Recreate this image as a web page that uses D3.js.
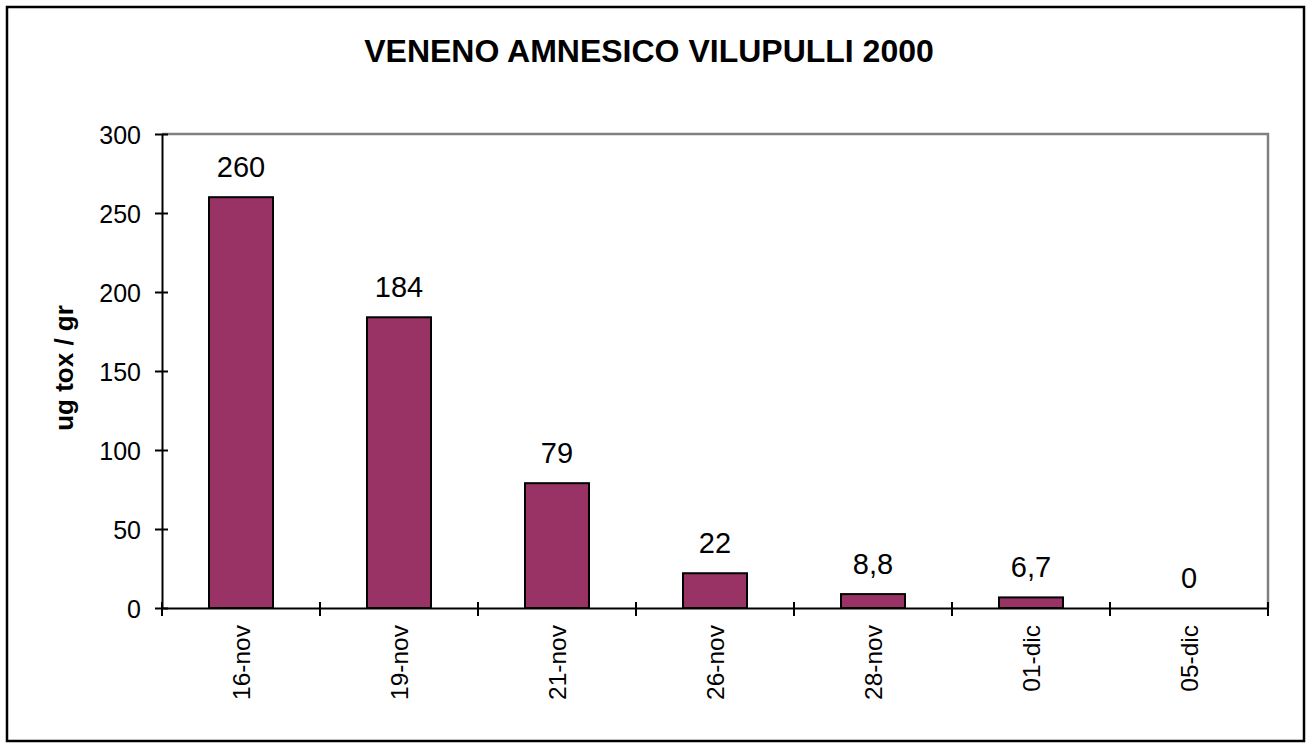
<!DOCTYPE html>
<html><head><meta charset="utf-8">
<script src="https://cdn.jsdelivr.net/npm/d3@7"></script>
<style>body{margin:0;background:#fff}svg{display:block}text{font-family:"Liberation Sans",Arial,sans-serif}</style>
</head><body><svg id="c" width="1311" height="748"></svg>
<script>
const categories = ["16-nov","19-nov","21-nov","26-nov","28-nov","01-dic","05-dic"];
const values = [260,184,79,22,8.8,6.7,0];
const valueLabels = ["260","184","79","22","8,8","6,7","0"];
const yTicks = [0,50,100,150,200,250,300];
const title = "VENENO AMNESICO VILUPULLI 2000";
const yTitle = "ug tox / gr";

const svg = d3.select("#c");
const m = {l:162, r:1268, t:134, b:608};
svg.append("rect").attr("x",7).attr("y",7).attr("width",1297).attr("height",734)
  .attr("fill","#fff").attr("stroke","#000").attr("stroke-width",2.5);

const x = d3.scaleBand().domain(categories).range([m.l,m.r]).paddingInner(0.595).paddingOuter(0.2975);
const y = d3.scaleLinear().domain([0,300]).range([m.b,m.t]);

// plot border (grey top/right)
svg.append("path").attr("d",`M${m.l},${m.t}H${m.r}V${m.b}`).attr("fill","none").attr("stroke","#808080").attr("stroke-width",2.5);

svg.selectAll("rect.bar").data(values).join("rect").attr("class","bar")
  .attr("x",(d,i)=>x(categories[i])).attr("width",x.bandwidth())
  .attr("y",d=>y(d)).attr("height",d=>y(0)-y(d))
  .attr("fill","#993366").attr("stroke","#000").attr("stroke-width",2);

svg.selectAll("text.vl").data(values).join("text").attr("class","vl")
  .attr("x",(d,i)=>x(categories[i])+x.bandwidth()/2).attr("y",d=>y(d)-20)
  .attr("text-anchor","middle").attr("font-size",29).text((d,i)=>valueLabels[i]);

// y axis
const ya = svg.append("g").attr("transform",`translate(${m.l},0)`)
  .call(d3.axisLeft(y).tickValues(yTicks).tickSize(0).tickPadding(21).tickFormat(d3.format("d")));
ya.select(".domain").attr("stroke","#000").attr("stroke-width",2);
ya.selectAll("text").attr("font-size",25).attr("fill","#000").attr("font-family","Liberation Sans, Arial, sans-serif").attr("dy","0.36em");
ya.selectAll(".tick").append("line").attr("x1",-7).attr("x2",6).attr("stroke","#000").attr("stroke-width",2);

// x axis
const xa = svg.append("g").attr("transform",`translate(0,${m.b})`)
  .call(d3.axisBottom(x).tickSize(0).tickPadding(0));
xa.select(".domain").attr("stroke","#000").attr("stroke-width",2);
xa.selectAll(".tick text").attr("font-size",24.5).attr("fill","#000").attr("font-family","Liberation Sans, Arial, sans-serif")
  .attr("text-anchor","end").attr("transform","translate(9,17) rotate(-90)").attr("dy",0).attr("y",0).attr("x",0);
const step = x.step();
const bounds = d3.range(categories.length+1).map(i=>m.l+i*step);
xa.selectAll("line.bt").data(bounds).join("line").attr("class","bt")
  .attr("x1",d=>d).attr("x2",d=>d).attr("y1",-6).attr("y2",8).attr("stroke","#000").attr("stroke-width",2);

svg.append("text").attr("x",649).attr("y",62).attr("text-anchor","middle")
  .attr("font-size",32).attr("font-weight","bold").text(title);
svg.append("text").attr("transform",`translate(73,368) rotate(-90)`).attr("text-anchor","middle")
  .attr("font-size",26).attr("font-weight","bold").text(yTitle);
</script></body></html>
